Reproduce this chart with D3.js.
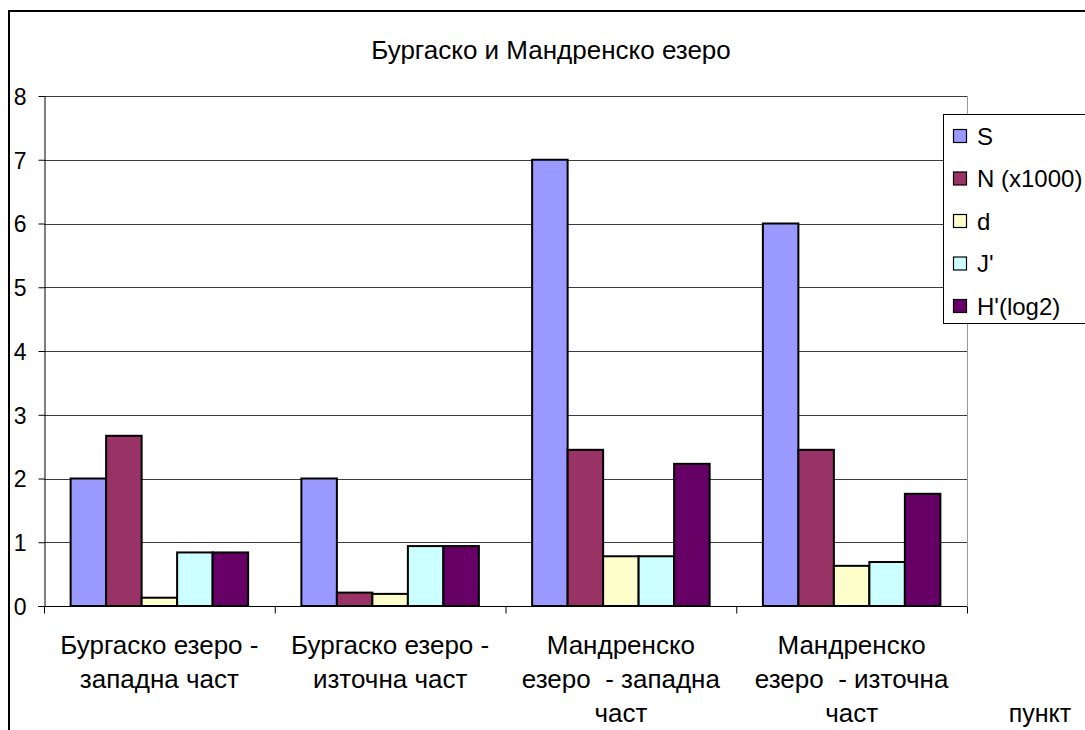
<!DOCTYPE html>
<html><head><meta charset="utf-8">
<script src="https://cdn.jsdelivr.net/npm/d3@7"></script>
<style>body{margin:0;background:#fff}svg{display:block;font-family:"Liberation Sans",Arial,sans-serif}</style>
</head><body>
<svg id="c" width="1085" height="730"></svg>
<script>
const title = "Бургаско и Мандренско езеро";
const categories = [
  ["Бургаско езеро -", "западна част"],
  ["Бургаско езеро -", "източна част"],
  ["Мандренско", "езеро  - западна", "част"],
  ["Мандренско", "езеро  - източна", "част"]
];
const seriesNames = ["S", "N (x1000)", "d", "J'", "H'(log2)"];
const seriesColors = ["#9999FF", "#993366", "#FFFFCC", "#CCFFFF", "#660066"];
const S = [2, 2, 7, 6];
const N = [2.67, 0.21, 2.45, 2.45];
const dVals = [0.13, 0.19, 0.78, 0.63];
const J = [0.84, 0.94, 0.78, 0.69];
const H = [0.84, 0.94, 2.23, 1.76];
const yTicks = [0,1,2,3,4,5,6,7,8];
const xAxisTitle = "пункт";

const series = [S, N, dVals, J, H];
const svg = d3.select("#c");
const L = 44, R = 967, T = 96, B = 606;
const FS = 26;

// outer border
svg.append("rect").attr("x", 9).attr("y", 11).attr("width", 1200).attr("height", 900)
  .attr("fill", "none").attr("stroke", "#000").attr("stroke-width", 2);

svg.append("text").attr("x", 551).attr("y", 59).attr("text-anchor", "middle")
  .attr("font-size", 26).text(title);

const y = d3.scaleLinear().domain([0, 8]).range([B, T]);
const x0 = d3.scaleBand().domain(d3.range(categories.length)).range([L, R]).paddingInner(0).paddingOuter(0);
const x1 = d3.scaleBand().domain(d3.range(series.length)).range([0, x0.bandwidth()]).paddingOuter(0.75).paddingInner(0);

// gridlines
svg.append("g").selectAll("line").data(yTicks.filter(t => t > 0)).join("line")
  .attr("x1", L).attr("x2", R).attr("y1", d => Math.round(y(d)) + 0.5).attr("y2", d => Math.round(y(d)) + 0.5)
  .attr("stroke", "#3c3c3c").attr("stroke-width", 1);
// right plot border
svg.append("line").attr("x1", R + 0.5).attr("x2", R + 0.5).attr("y1", T).attr("y2", B)
  .attr("stroke", "#999").attr("stroke-width", 1);

// bars
const g = svg.append("g");
series.forEach((vals, si) => {
  g.selectAll(null).data(vals).join("rect")
    .attr("x", (v, i) => x0(i) + x1(si))
    .attr("y", v => y(v))
    .attr("width", x1.bandwidth())
    .attr("height", v => B - y(v))
    .attr("fill", seriesColors[si])
    .attr("stroke", "#000").attr("stroke-width", 2);
});

// y axis
const yAxis = d3.axisLeft(y).tickValues(yTicks).tickSize(6).tickSizeOuter(0).tickFormat(d3.format("d"));
const ya = svg.append("g").attr("transform", `translate(${L + 0.5},0)`).call(yAxis);
ya.select(".domain").attr("stroke", "#000");
ya.selectAll(".tick line").attr("stroke", "#000");
ya.selectAll(".tick text").attr("font-size", 23).attr("font-family", "Liberation Sans, Arial, sans-serif")
  .attr("fill", "#000").attr("x", -18).attr("dy", "0.36em");

// x axis
const xa = svg.append("g").attr("transform", `translate(0,${B + 0.5})`);
xa.append("line").attr("x1", L - 6).attr("x2", R).attr("y1", 0).attr("y2", 0).attr("stroke", "#000");
xa.selectAll("line.tk").data(d3.range(categories.length + 1)).join("line").attr("class", "tk")
  .attr("x1", i => (i < categories.length ? x0(i) : R) + 0.5).attr("x2", i => (i < categories.length ? x0(i) : R) + 0.5)
  .attr("y1", 0).attr("y2", 7).attr("stroke", "#000");
categories.forEach((lines, i) => {
  const t = svg.append("text").attr("text-anchor", "middle").attr("font-size", FS)
    .attr("x", x0(i) + x0.bandwidth() / 2).attr("y", 654);
  lines.forEach((ln, k) => t.append("tspan").attr("x", x0(i) + x0.bandwidth() / 2).attr("dy", k ? 34 : 0)
    .attr("xml:space", "preserve").text(ln));
});
svg.append("text").attr("x", 1040).attr("y", 722).attr("text-anchor", "middle").attr("font-size", 25).text(xAxisTitle);

// legend
svg.append("rect").attr("x", 943.5).attr("y", 114.5).attr("width", 200).attr("height", 209)
  .attr("fill", "#fff").attr("stroke", "#000").attr("stroke-width", 1);
const lg = svg.append("g").selectAll("g").data(seriesNames).join("g")
  .attr("transform", (d, i) => `translate(953,${136 + i * 42.5})`);
lg.append("rect").attr("x", 0.5).attr("y", -6.5).attr("width", 13).attr("height", 13)
  .attr("fill", (d, i) => seriesColors[i]).attr("stroke", "#000").attr("stroke-width", 1.2);
lg.append("text").attr("x", 24).attr("dy", "0.36em").attr("font-size", 24).text(d => d);
</script>
</body></html>
